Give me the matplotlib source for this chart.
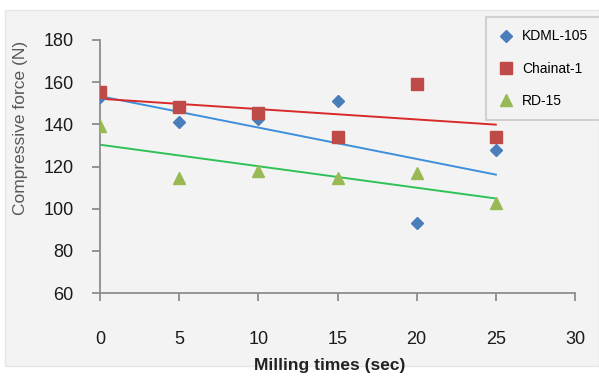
import numpy as np
import matplotlib.pyplot as plt
from matplotlib.patches import Rectangle

plt.rcParams['font.family'] = ['Liberation Sans', 'DejaVu Sans']

# --- data ---
times = [0, 5, 10, 15, 20, 25]
kdml = [153, 141, 142.5, 151, 93, 128]
chainat = [155.5, 148, 145.5, 134, 159, 134]
rd15 = [139, 114.5, 118, 114.5, 117, 102.5]

series = [
    ('KDML-105', kdml, '#4a7ebb', 'D', 6.5, '#3d8fdc'),
    ('Chainat-1', chainat, '#be4b48', 's', 8.5, '#d82a2a'),
    ('RD-15', rd15, '#98b954', '^', 8.5, '#2ec257'),
]

fig = plt.figure(figsize=(5.99, 3.76), dpi=100)
fig.patch.set_facecolor('white')
# gray chart area behind everything
bg = Rectangle((5 / 599, 1 - 366 / 376), 594 / 599, 356 / 376,
               transform=fig.transFigure, facecolor='#f3f3f3',
               edgecolor='#e6e6e6', lw=1, zorder=-10)
fig.patches.append(bg)

ax = fig.add_axes([100 / 599, 1 - 293 / 376, 475 / 599, 253 / 376])
ax.set_facecolor('none')

handles = []
for name, vals, col, mk, ms, lcol in series:
    h, = ax.plot(times, vals, linestyle='none', marker=mk, markersize=ms,
                 color=col, label=name, zorder=3)
    handles.append(h)
    # linear trend line
    slope, icpt = np.polyfit(times, vals, 1)
    xx = np.array([times[0], times[-1]])
    ax.plot(xx, slope * xx + icpt, color=lcol, lw=1.4, zorder=2)

ax.set_xlim(0, 30)
ax.set_ylim(60, 180)
ax.set_xticks(range(0, 31, 5))
ax.set_yticks(range(60, 181, 20))
for s in ['top', 'right']:
    ax.spines[s].set_visible(False)
for s in ['left', 'bottom']:
    ax.spines[s].set_color('#8c8c8c')
    ax.spines[s].set_linewidth(1.3)
ax.tick_params(axis='both', colors='#8c8c8c', length=6, width=1.3,
               labelcolor='#1a1a1a', labelsize=13)
ax.tick_params(axis='x', pad=21)
ax.tick_params(axis='y', pad=13)

ax.set_ylabel('Compressive force (N)', fontsize=12.5, color='#595959')
ax.yaxis.set_label_coords(-0.152, 0.652)
ax.set_xlabel('Milling times (sec)', fontsize=12.5, fontweight='bold',
              color='#222222')
ax.xaxis.set_label_coords(0.484, -0.255)

leg = fig.legend(handles=handles, loc='upper left',
                 bbox_to_anchor=(486 / 599, 1 - 17 / 376), frameon=True,
                 fontsize=10, handletextpad=0.6, labelspacing=1.3,
                 borderpad=0.9, handlelength=1.1, fancybox=False,
                 borderaxespad=0)
leg.get_frame().set_facecolor('#f3f3f3')
leg.get_frame().set_edgecolor('#c8c8c8')
leg.get_frame().set_linewidth(1.5)

fig.savefig('out.png', dpi=100)
